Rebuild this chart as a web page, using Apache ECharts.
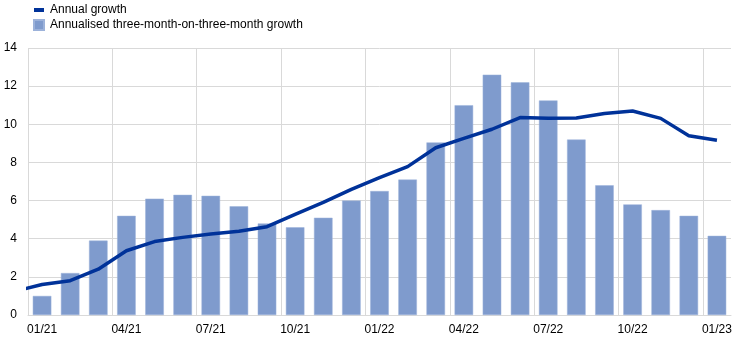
<!DOCTYPE html>
<html>
<head>
<meta charset="utf-8">
<script src="https://cdn.jsdelivr.net/npm/echarts@6/dist/echarts.min.js"></script>
<style>
html,body{margin:0;padding:0;background:#fff;}
#chart{width:744px;height:347px;}
</style>
</head>
<body>
<div id="chart"></div>
<script>
var categories = ['01/21','02/21','03/21','04/21','05/21','06/21','07/21','08/21','09/21','10/21','11/21','12/21',
                  '01/22','02/22','03/22','04/22','05/22','06/22','07/22','08/22','09/22','10/22','11/22','12/22','01/23'];
// three-month-on-three-month annualised growth (bars)
var threeMonthGrowth = [1.0, 2.2, 3.9, 5.2, 6.1, 6.3, 6.25, 5.7, 4.8, 4.6, 5.1, 6.0,
                        6.5, 7.1, 9.05, 11.0, 12.6, 12.2, 11.25, 9.2, 6.8, 5.8, 5.5, 5.2, 4.15];
// annual growth (line), starting one month earlier (12/20) which is clipped at the plot edge
var lineMonths = ['12/20'].concat(categories);
var annualGrowth = [1.23, 1.6, 1.8, 2.4, 3.37, 3.85, 4.07, 4.25, 4.39, 4.63, 5.28, 5.91, 6.59,
                    7.2, 7.78, 8.77, 9.26, 9.74, 10.35, 10.31, 10.33, 10.57, 10.7, 10.31, 9.4, 9.16];
var yTicks = [0, 2, 4, 6, 8, 10, 12, 14];

var chart = echarts.init(document.getElementById('chart'), null, {renderer: 'canvas'});
var font = 'Liberation Sans, Arial, sans-serif';
var lineData = annualGrowth.map(function (v, i) { return [i - 1, v]; });

chart.setOption({
  animation: false,
  textStyle: {fontFamily: font},
  legend: {
    orient: 'vertical',
    left: 33,
    top: 4,
    padding: 0,
    itemWidth: 10,
    itemHeight: 10,
    itemGap: 3,
    textStyle: {fontSize: 12, color: '#000', fontFamily: font, padding: [0, 0, 0, 1]},
    data: [
      {name: 'Annual growth', icon: 'path://M0,0h10v4h-10z'},
      {name: 'Annualised three-month-on-three-month growth', icon: 'rect'}
    ]
  },
  grid: {left: 28, right: 13, top: 48, bottom: 32, containLabel: false},
  xAxis: [{
    type: 'category',
    data: categories,
    boundaryGap: true,
    axisLine: {show: true, lineStyle: {color: '#d9d9d9', width: 1}},
    axisTick: {show: false},
    axisLabel: {interval: 2, color: '#000', fontSize: 12, fontFamily: font, margin: 9},
    splitLine: {
      show: true,
      interval: 2,
      showMaxLine: false,
      lineStyle: {color: '#d9d9d9', width: 1}
    }
  }, {
    type: 'value',
    min: -0.5,
    max: categories.length - 0.5,
    show: false
  }],
  yAxis: {
    type: 'value',
    min: yTicks[0],
    max: yTicks[yTicks.length - 1],
    interval: 2,
    axisLine: {show: false},
    axisTick: {show: false},
    axisLabel: {color: '#000', fontSize: 12, fontFamily: font, margin: 11},
    splitLine: {show: true, lineStyle: {color: '#d9d9d9', width: 1}}
  },
  series: [{
    name: 'Annualised three-month-on-three-month growth',
    type: 'bar',
    xAxisIndex: 0,
    data: threeMonthGrowth,
    barWidth: '66%',
    itemStyle: {color: '#7f9bcd', borderColor: '#9cb2da', borderWidth: 0.5},
    z: 2
  }, {
    name: 'Annual growth',
    type: 'line',
    xAxisIndex: 1,
    data: lineData,
    showSymbol: false,
    symbol: 'none',
    clip: true,
    lineStyle: {color: '#003299', width: 3.5},
    itemStyle: {color: '#003299'},
    z: 3
  }]
});
</script>
</body>
</html>
